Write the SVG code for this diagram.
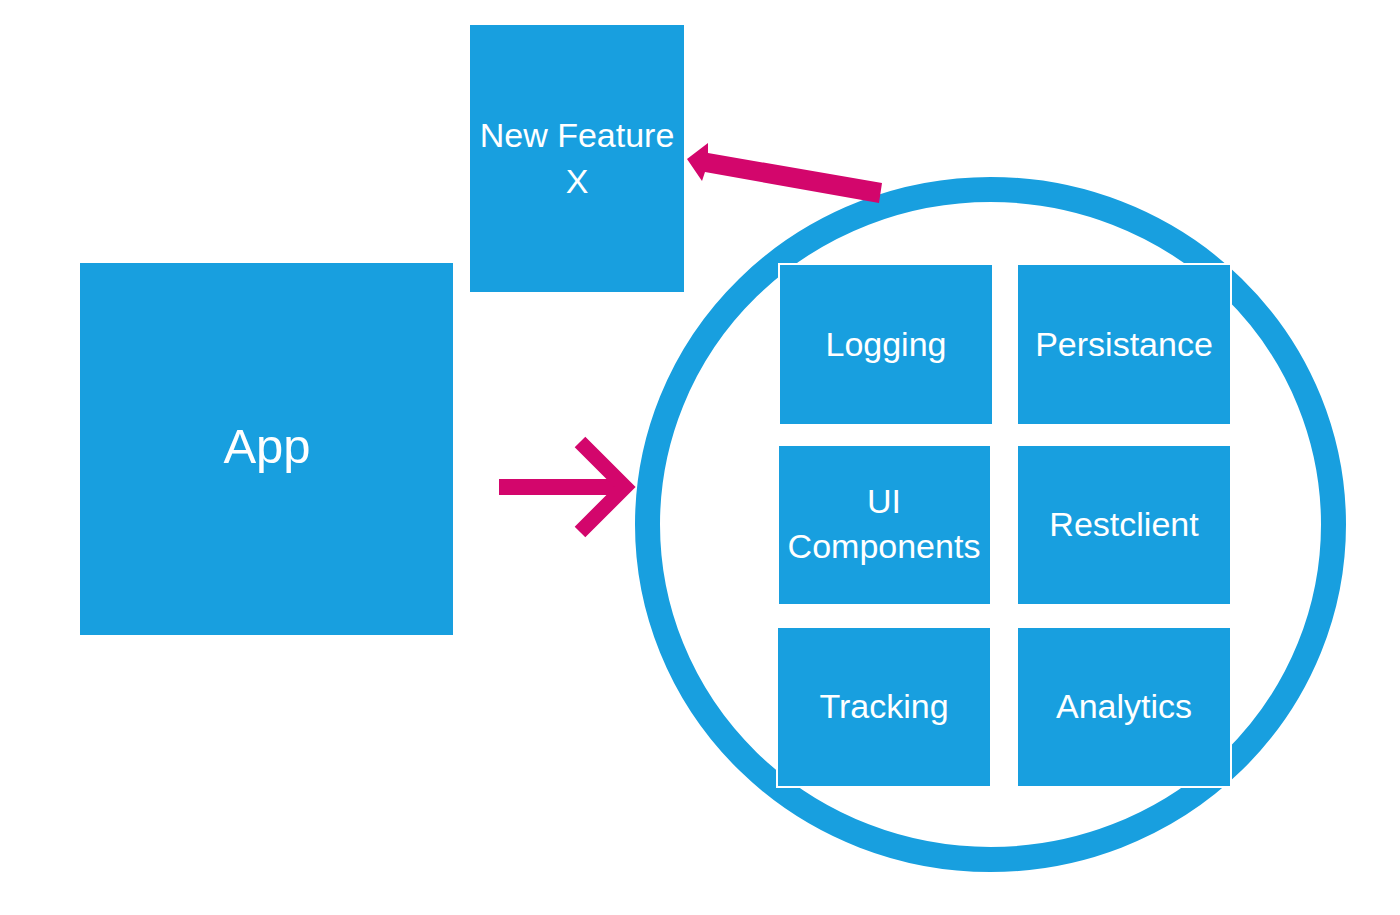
<svg xmlns="http://www.w3.org/2000/svg" width="1400" height="915" viewBox="0 0 1400 915">
<style>
.box{fill:#189fdf;}
.mod{fill:#189fdf;stroke:#ffffff;stroke-width:2;}
.lbl{font-family:"Liberation Sans",Arial,sans-serif;font-size:34px;fill:#ffffff;text-anchor:middle;}
.mag{fill:#d3066c;}
</style>
<rect width="1400" height="915" fill="#ffffff"/>
<g id="platform">
<ellipse cx="990.5" cy="524.5" rx="343" ry="335" fill="none" stroke="#189fdf" stroke-width="25"/>
</g>
<g id="app">
<rect class="box" x="80" y="263" width="373" height="372"/>
<text class="lbl" x="267" y="463" style="font-size:49px">App</text>
</g>
<g id="newfeature">
<rect class="box" x="470" y="25" width="214" height="267"/>
<text class="lbl" x="577" y="147">New Feature</text>
<text class="lbl" x="577" y="193">X</text>
</g>
<g id="logging">
<rect class="mod" x="779" y="264" width="214" height="161"/>
<text class="lbl" x="886" y="356">Logging</text>
</g>
<g id="persistance">
<rect class="mod" x="1017" y="264" width="214" height="161"/>
<text class="lbl" x="1124" y="356">Persistance</text>
</g>
<g id="uicomponents">
<rect class="mod" x="778" y="445" width="213" height="160"/>
<text class="lbl" x="884" y="513">UI</text>
<text class="lbl" x="884" y="558">Components</text>
</g>
<g id="restclient">
<rect class="mod" x="1017" y="445" width="214" height="160"/>
<text class="lbl" x="1124" y="536">Restclient</text>
</g>
<g id="tracking">
<rect class="mod" x="777" y="627" width="214" height="160"/>
<text class="lbl" x="884" y="718">Tracking</text>
</g>
<g id="analytics">
<rect class="mod" x="1017" y="627" width="214" height="160"/>
<text class="lbl" x="1124" y="718">Analytics</text>
</g>
<g id="connectors">
<polygon class="mag" points="882,183 879,203 705,172 702,181 687,159 708,143 708,153"/>
<rect class="mag" x="499" y="479" width="122" height="16"/>
<polyline points="580,442 625,487 580,532" fill="none" stroke="#d3066c" stroke-width="15" stroke-linejoin="miter"/>
</g>
</svg>
